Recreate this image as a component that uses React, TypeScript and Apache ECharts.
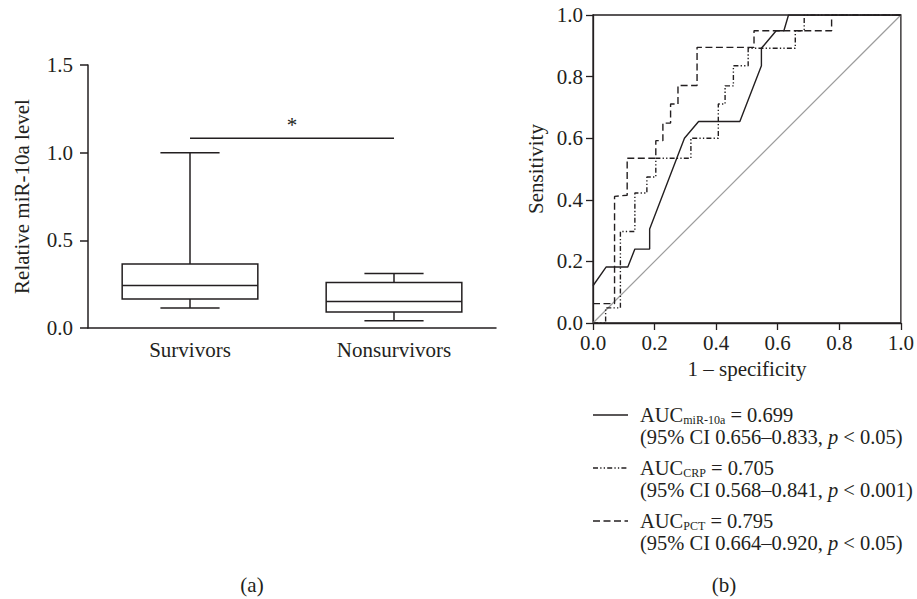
import React, { useEffect, useRef } from "react";
import * as echarts from "echarts";

// ---------- Data: panel (a) ----------
const categories = ["Survivors", "Nonsurvivors"];
const whiskerLow = [0.114, 0.042];
const quartile1 = [0.166, 0.091];
const medians = [0.242, 0.151];
const quartile3 = [0.365, 0.259];
const whiskerHigh = [1.0, 0.311];
const significanceLevel = 1.082;
const significanceMark = "*";
const leftYAxisTicks = { min: 0, max: 1.5, interval: 0.5 };

// ---------- Data: panel (b) ----------
const rocMiR10a: [number, number][] = [
  [0, 0.121], [0.043, 0.182], [0.113, 0.182], [0.136, 0.24], [0.184, 0.24],
  [0.184, 0.305], [0.297, 0.6], [0.343, 0.654], [0.477, 0.654], [0.547, 0.835],
  [0.547, 0.892], [0.595, 0.949], [0.62, 0.949], [0.635, 1.0], [1, 1],
];
const rocCRP: [number, number][] = [
  [0, 0], [0.041, 0], [0.041, 0.049], [0.089, 0.049], [0.089, 0.297], [0.136, 0.297],
  [0.136, 0.422], [0.175, 0.422], [0.175, 0.474], [0.204, 0.474], [0.204, 0.535],
  [0.318, 0.535], [0.318, 0.6], [0.407, 0.6], [0.407, 0.711], [0.429, 0.711],
  [0.429, 0.77], [0.456, 0.77], [0.456, 0.835], [0.504, 0.835], [0.504, 0.892],
  [0.657, 0.892], [0.657, 0.949], [0.686, 0.949], [0.686, 1.0], [1, 1],
];
const rocPCT: [number, number][] = [
  [0, 0.063], [0.07, 0.063], [0.07, 0.411], [0.111, 0.415], [0.111, 0.535],
  [0.204, 0.535], [0.204, 0.592], [0.227, 0.592], [0.227, 0.649], [0.252, 0.649],
  [0.252, 0.711], [0.276, 0.711], [0.276, 0.771], [0.338, 0.771], [0.338, 0.895],
  [0.523, 0.895], [0.523, 0.949], [0.775, 0.949], [0.775, 1.0], [1, 1],
];
const referenceLine: [number, number][] = [[0, 0], [1, 1]];
const rocAxisTicks = { min: 0, max: 1, interval: 0.2 };

const legendNames = ["miR-10a", "CRP", "PCT"];
const legendAUC = ["0.699", "0.705", "0.795"];
const legendCI = ["0.656–0.833", "0.568–0.841", "0.664–0.920"];
const legendP = ["< 0.05", "< 0.001", "< 0.05"];
const panelLabels = ["(a)", "(b)"];

// ---------- Styles ----------
const FONT = "'Liberation Serif', 'Times New Roman', 'DejaVu Serif', serif";
const FS = 21;
const LFS = 20.5;
const INK = "#231f20";
const dashStyles: (string | number[])[] = ["solid", [5, 2.2, 1.3, 2.2, 1.3, 2.2], [7, 3.5]];

export default function App() {
  const ref = useRef<HTMLDivElement>(null);

  useEffect(() => {
    if (!ref.current) return;
    const chart = echarts.init(ref.current, undefined, { renderer: "svg" });

    const boxData = categories.map((_, i) => [
      i, whiskerLow[i], quartile1[i], medians[i], quartile3[i], whiskerHigh[i],
    ]);

    const textBase = { fontFamily: FONT, fontSize: FS, color: INK };

    const rocSeries = [rocMiR10a, rocCRP, rocPCT].map((d, k) => ({
      type: "line",
      name: legendNames[k],
      xAxisIndex: 1,
      yAxisIndex: 1,
      data: d,
      symbol: "none",
      z: 5,
      lineStyle: { color: INK, width: 1.4, type: dashStyles[k] },
    }));

    // legend drawn as graphic elements (sample line + two-line rich text)
    const legendGraphics: any[] = [];
    const legendTop = 415;
    const legendStep = 53;
    legendNames.forEach((nm, k) => {
      const y = legendTop + k * legendStep;
      legendGraphics.push({
        type: "line",
        shape: { x1: 593, y1: y, x2: 628, y2: y },
        style: { stroke: INK, lineWidth: 1.4, lineDash: dashStyles[k] === "solid" ? null : dashStyles[k] },
      });
      legendGraphics.push({
        type: "text",
        x: 640,
        y: y - 11,
        style: {
          text:
            `{n|AUC}{s|${nm}}{n| = ${legendAUC[k]}}\n` +
            `{n|(95% CI ${legendCI[k]}, }{i|p}{n| ${legendP[k]})}`,
          verticalAlign: "top",
          align: "left",
          rich: {
            n: { fontFamily: FONT, fontSize: LFS, lineHeight: 21, fill: INK },
            s: { fontFamily: FONT, fontSize: 12, lineHeight: 22, fill: INK, verticalAlign: "bottom" },
            i: { fontFamily: FONT, fontSize: LFS, lineHeight: 21, fill: INK, fontStyle: "italic" },
          },
        },
      });
    });

    const option: any = {
      animation: false,
      backgroundColor: "#ffffff",
      grid: [
        { left: 88, top: 65, width: 408, height: 263, containLabel: false },
        { left: 593, top: 15, width: 311, height: 308, show: true, borderColor: INK, borderWidth: 1.3, containLabel: false },
      ],
      xAxis: [
        {
          type: "category",
          gridIndex: 0,
          data: categories,
          boundaryGap: true,
          axisLine: { lineStyle: { color: INK, width: 1.5 } },
          axisTick: { alignWithLabel: true, length: 7, lineStyle: { color: INK, width: 1.5 } },
          axisLabel: { ...textBase, margin: 11 },
          splitLine: { show: false },
        },
        {
          type: "value",
          gridIndex: 1,
          min: rocAxisTicks.min,
          max: rocAxisTicks.max,
          interval: rocAxisTicks.interval,
          name: "1 – specificity",
          nameLocation: "middle",
          nameGap: 35,
          nameTextStyle: textBase,
          axisLine: { lineStyle: { color: INK, width: 1.3 } },
          axisTick: { length: 7, lineStyle: { color: INK, width: 1.3 } },
          axisLabel: { ...textBase, margin: 9, formatter: (v: number) => v.toFixed(1) },
          splitLine: { show: false },
        },
      ],
      yAxis: [
        {
          type: "value",
          gridIndex: 0,
          min: leftYAxisTicks.min,
          max: leftYAxisTicks.max,
          interval: leftYAxisTicks.interval,
          name: "Relative miR-10a level",
          nameLocation: "middle",
          nameGap: 56,
          nameTextStyle: textBase,
          axisLine: { show: true, lineStyle: { color: INK, width: 1.5 } },
          axisTick: { show: true, length: 8, lineStyle: { color: INK, width: 1.5 } },
          axisLabel: { ...textBase, margin: 15, formatter: (v: number) => v.toFixed(1) },
          splitLine: { show: false },
        },
        {
          type: "value",
          gridIndex: 1,
          min: rocAxisTicks.min,
          max: rocAxisTicks.max,
          interval: rocAxisTicks.interval,
          name: "Sensitivity",
          nameLocation: "middle",
          nameGap: 47,
          nameTextStyle: textBase,
          axisLine: { show: true, lineStyle: { color: INK, width: 1.3 } },
          axisTick: { show: true, length: 7, lineStyle: { color: INK, width: 1.3 } },
          axisLabel: { ...textBase, margin: 10, formatter: (v: number) => v.toFixed(1) },
          splitLine: { show: false },
        },
      ],
      series: [
        {
          type: "custom",
          xAxisIndex: 0,
          yAxisIndex: 0,
          data: boxData,
          encode: { x: 0, y: [1, 2, 3, 4, 5] },
          renderItem: (params: any, api: any) => {
            const i = api.value(0);
            const lo = api.coord([i, api.value(1)]);
            const b1 = api.coord([i, api.value(2)]);
            const md = api.coord([i, api.value(3)]);
            const b3 = api.coord([i, api.value(4)]);
            const hi = api.coord([i, api.value(5)]);
            const band = api.size([1, 0])[0];
            const bw = band * 0.665;
            const cw = band * 0.29;
            const x = lo[0];
            const st = { stroke: INK, lineWidth: 1.5 };
            return {
              type: "group",
              children: [
                { type: "line", shape: { x1: x, y1: b3[1], x2: x, y2: hi[1] }, style: st },
                { type: "line", shape: { x1: x, y1: b1[1], x2: x, y2: lo[1] }, style: st },
                { type: "line", shape: { x1: x - cw / 2, y1: hi[1], x2: x + cw / 2, y2: hi[1] }, style: st },
                { type: "line", shape: { x1: x - cw / 2, y1: lo[1], x2: x + cw / 2, y2: lo[1] }, style: st },
                { type: "rect", shape: { x: x - bw / 2, y: b3[1], width: bw, height: b1[1] - b3[1] }, style: { ...st, fill: "#ffffff" } },
                { type: "line", shape: { x1: x - bw / 2, y1: md[1], x2: x + bw / 2, y2: md[1] }, style: st },
              ],
            };
          },
        },
        {
          type: "line",
          xAxisIndex: 0,
          yAxisIndex: 0,
          data: [[0, significanceLevel], [1, significanceLevel]],
          symbol: "none",
          lineStyle: { color: INK, width: 1.5 },
        },
        {
          type: "custom",
          xAxisIndex: 0,
          yAxisIndex: 0,
          data: [[0, 1, significanceLevel]],
          encode: { x: [0, 1], y: 2 },
          renderItem: (params: any, api: any) => {
            const a = api.coord([api.value(0), api.value(2)]);
            const b = api.coord([api.value(1), api.value(2)]);
            return {
              type: "text",
              x: (a[0] + b[0]) / 2,
              y: a[1] - 13,
              style: { text: significanceMark, fontFamily: FONT, fontSize: FS, fill: INK, align: "center", verticalAlign: "middle" },
            };
          },
        },
        {
          type: "line",
          xAxisIndex: 1,
          yAxisIndex: 1,
          data: referenceLine,
          symbol: "none",
          z: 2,
          lineStyle: { color: "#9d9d9d", width: 1.2 },
        },
        ...rocSeries,
      ],
      graphic: [
        ...legendGraphics,
        {
          type: "text",
          x: 252,
          y: 585,
          style: { text: panelLabels[0], fontFamily: FONT, fontSize: FS, fill: INK, align: "center", verticalAlign: "middle" },
        },
        {
          type: "text",
          x: 724,
          y: 585,
          style: { text: panelLabels[1], fontFamily: FONT, fontSize: FS, fill: INK, align: "center", verticalAlign: "middle" },
        },
      ],
    };

    chart.setOption(option);
    return () => chart.dispose();
  }, []);

  return (
    <div
      ref={ref}
      style={{ position: "fixed", left: 0, top: 0, width: 917, height: 599, background: "#fff" }}
    />
  );
}
